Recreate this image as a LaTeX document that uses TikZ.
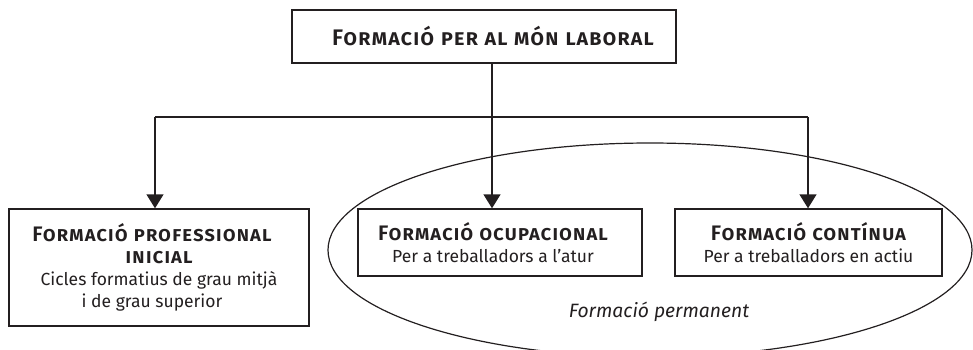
\documentclass[tikz,border=0pt]{standalone}
\usepackage{fontspec}
\setmainfont{Fira Sans}
\newfontfamily\headfont{Fira Sans}[BoldFont={Fira Sans SemiBold},LetterSpace=4]
\newcommand{\hd}[1]{{\fontsize{21}{22.5}\selectfont\headfont\bfseries\scshape #1}}
\usetikzlibrary{arrows.meta,shapes.geometric}
\definecolor{ink}{HTML}{231F20}
\begin{document}
\begin{tikzpicture}[x=1pt,y=-1pt,
  box/.style={draw=ink,line width=1.4pt,rectangle,inner sep=0pt,text=ink,align=center,
    font=\fontsize{17.5}{21.5}\selectfont},
  arr/.style={draw=ink,line width=1.4pt,-{Triangle[length=14pt,width=17pt]}},
  plain/.style={draw=ink,line width=1.4pt}]
\useasboundingbox (0,0) rectangle (973,349);
\clip (0,0) rectangle (973,349);
% ellipse
\node[ellipse,draw=ink,line width=1.2pt,minimum width=644pt,minimum height=214pt,inner sep=0pt] (perm) at (650,250) {};
\node[text=ink,font=\fontsize{19.3}{22}\selectfont\itshape] (permlab) at (659,312) {Formació permanent};
% boxes
\node[box,minimum width=384pt,minimum height=53pt,font=\fontsize{22.5}{24}\selectfont] (top) at (484,36.5)
  {\hspace*{18pt}\headfont\bfseries\scshape Formació per al món laboral};
\node[box,minimum width=300pt,minimum height=117pt] (left) at (159,267.5)
  {\hd{Formació professional}\hspace*{14pt}\\\hd{inicial}\hspace*{14pt}\\[1pt]
   Cicles formatius de grau mitjà\hspace*{10pt}\\i de grau superior\hspace*{14pt}};
\node[box,minimum width=284pt,minimum height=67pt] (mid) at (500,242.5)
  {\hd{Formació ocupacional}\hspace*{14pt}\\Per a treballadors a l’atur\hspace*{14pt}};
\node[box,minimum width=267pt,minimum height=67pt] (right) at (808.5,242.5)
  {\hd{Formació contínua}\\Per a treballadors en actiu};
% connectors
\coordinate (hub) at (492,117);
\coordinate (jl) at (155,117);
\coordinate (jr) at (808,117);
\draw[arr] (top.south -| hub) -- (hub) -- (hub |- mid.north);
\draw[plain] (jl) -- (jr);
\draw[arr] (jl) -- (jl |- left.north);
\draw[arr] (jr) -- (jr |- right.north);
\end{tikzpicture}
\end{document}
